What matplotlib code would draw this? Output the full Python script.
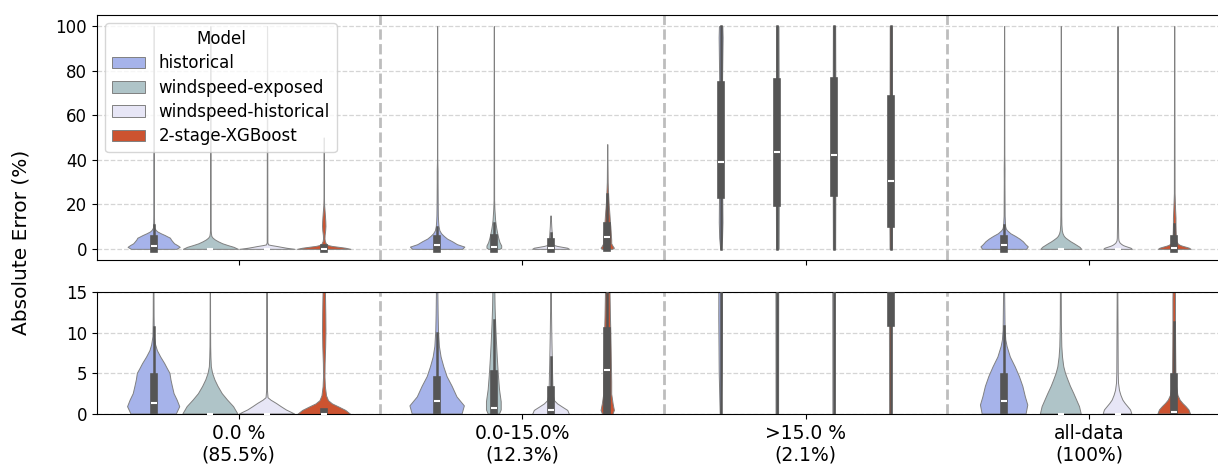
import matplotlib
matplotlib.use("Agg")
import matplotlib.pyplot as plt
from matplotlib.patches import Patch

groups = ["0.0 %\n(85.5%)", "0.0-15.0%\n(12.3%)", ">15.0 %\n(2.1%)", "all-data\n(100%)"]
models = ["historical", "windspeed-exposed", "windspeed-historical", "2-stage-XGBoost"]
colors = ["#a6b3ea", "#afc4c8", "#e7e6f6", "#cc5330"]

# inner box stats: one row per error group, one column per model
whis_lo = [[0, 0, 0, 0], [0, 0, 0, 0], [0, 0, 0, 0], [0, 0, 0, 0]]
q1 = [[0, 0, 0, 0], [0, 0, 0, 0.2], [24.0, 20.7, 25.1, 11.2], [0, 0, 0, 0]]
med = [[1.4, 0, 0, 0.05], [1.63, 0.78, 0.5, 5.43], [39.2, 43.6, 42.3, 30.5], [1.63, 0, 0, 0.2]]
q3 = [[4.55, 0, 0, 0.22], [4.2, 4.9, 2.9, 10.2], [73.4, 75.1, 75.2, 67.2], [4.55, 0, 0, 4.55]]
whis_hi = [[10.7, 0, 0, 0.5], [9.9, 11.5, 7.0, 24.7], [100, 100, 100, 100], [10.8, 0, 0, 11.3]]

# violin outlines: (error value, relative width) per model
shape_zero = [
    ([0, 0.9, 1.7, 2.5, 3.4, 4.2, 5.0, 5.6, 6.2, 7.0, 7.8, 8.5, 9.5, 12, 15, 35, 100],
     [0.80, 0.92, 0.83, 0.72, 0.66, 0.61, 0.575, 0.48, 0.39, 0.25, 0.13, 0.07, 0.025, 0.015, 0.012, 0.012, 0.004]),
    ([0, 0.9, 1.7, 2.5, 3.4, 4.2, 5.0, 5.8, 7.0, 8.3, 11, 15, 100],
     [0.97, 0.82, 0.61, 0.42, 0.27, 0.16, 0.08, 0.035, 0.02, 0.012, 0.008, 0.006, 0.004]),
    ([0, 0.5, 0.9, 1.3, 1.7, 2.0, 3, 100],
     [0.975, 0.68, 0.5, 0.33, 0.14, 0.035, 0.012, 0.004]),
    ([0, 0.5, 0.9, 1.3, 1.7, 2.3, 3.4, 4.6, 6.2, 8.3, 10.3, 12.3, 14.4, 17, 20, 25, 50],
     [0.94, 0.76, 0.53, 0.29, 0.15, 0.08, 0.04, 0.025, 0.03, 0.05, 0.06, 0.055, 0.045, 0.03, 0.012, 0.006, 0.004]),
]
shape_mid = [
    ([0, 1.0, 2.1, 3.4, 4.6, 5.8, 7.0, 8.3, 10.3, 12.3, 15, 20, 30, 35, 40, 100],
     [0.88, 0.96, 0.70, 0.53, 0.35, 0.235, 0.14, 0.08, 0.047, 0.035, 0.025, 0.02, 0.015, 0.015, 0.006, 0.004]),
    ([0, 0.5, 1.5, 3, 5, 7, 9, 11, 13, 15, 18, 22, 100],
     [0.2, 0.26, 0.26, 0.2, 0.155, 0.12, 0.09, 0.065, 0.045, 0.035, 0.02, 0.01, 0.004]),
    ([0, 0.5, 0.9, 1.3, 1.7, 2.5, 4.2, 6.2, 8.3, 10.3, 12.3, 15],
     [0.65, 0.59, 0.41, 0.235, 0.12, 0.07, 0.06, 0.047, 0.035, 0.025, 0.018, 0.004]),
    ([0, 0.5, 1.3, 2.5, 4, 6, 8, 10, 12, 15, 20, 25, 30, 40, 47],
     [0.18, 0.235, 0.19, 0.14, 0.14, 0.13, 0.12, 0.11, 0.095, 0.08, 0.05, 0.03, 0.015, 0.008, 0.004]),
]
shape_high = [
    ([0, 5, 12, 20, 30, 50, 70, 85, 95, 100],
     [0.015, 0.05, 0.065, 0.06, 0.05, 0.045, 0.045, 0.06, 0.07, 0.06]),
    ([0, 20, 50, 80, 100], [0.045, 0.05, 0.045, 0.045, 0.04]),
    ([0, 20, 50, 80, 100], [0.04, 0.045, 0.045, 0.045, 0.04]),
    ([0, 10, 30, 60, 100], [0.04, 0.045, 0.045, 0.04, 0.035]),
]
shape_all = [
    ([0, 1.1, 2.1, 3.4, 4.6, 5.8, 7.0, 8.3, 9.1, 10.3, 15, 30, 36, 42, 100],
     [0.775, 0.835, 0.75, 0.66, 0.54, 0.39, 0.22, 0.105, 0.06, 0.035, 0.018, 0.012, 0.014, 0.008, 0.004]),
    ([0, 0.9, 1.7, 2.5, 3.4, 4.2, 5.0, 5.8, 7.0, 8.3, 11, 15, 100],
     [0.72, 0.66, 0.56, 0.46, 0.34, 0.25, 0.165, 0.105, 0.06, 0.035, 0.02, 0.015, 0.004]),
    ([0, 0.5, 0.9, 1.3, 1.7, 2.3, 2.9, 3.8, 5, 15, 100],
     [0.505, 0.46, 0.365, 0.27, 0.19, 0.12, 0.07, 0.035, 0.025, 0.012, 0.004]),
    ([0, 0.5, 0.9, 1.3, 1.7, 2.3, 3.4, 5, 8.3, 11, 14, 18, 25, 100],
     [0.575, 0.52, 0.42, 0.305, 0.21, 0.13, 0.08, 0.06, 0.05, 0.045, 0.045, 0.03, 0.012, 0.004]),
]
shapes = [shape_zero, shape_mid, shape_high, shape_all]

edge_color = "#808080"
box_color = "#555555"

fig = plt.figure(figsize=(12.18, 4.67), dpi=100)
ax_top = fig.add_axes([0.0796, 0.4433, 0.931, 0.5246])
ax_bot = fig.add_axes([0.0796, 0.1135, 0.931, 0.2612])

for ax in (ax_top, ax_bot):
    for i in range(len(groups)):
        for j in range(len(models)):
            pos = i + (j - 1.5) * 0.2
            ys, ws = shapes[i][j]
            half = [w * 0.1 for w in ws]
            ax.fill_betweenx(ys, [pos - h for h in half], [pos + h for h in half],
                             facecolor=colors[j], edgecolor=edge_color, linewidth=0.7, zorder=2)
            if whis_hi[i][j] > whis_lo[i][j]:
                ax.plot([pos, pos], [whis_lo[i][j], whis_hi[i][j]], color=box_color, lw=1.8, zorder=3)
            if q3[i][j] > q1[i][j]:
                ax.plot([pos, pos], [q1[i][j], q3[i][j]], color=box_color, lw=5.5, zorder=3)
            ax.plot(pos, med[i][j], marker="_", color="white", ms=5, mew=1.5, zorder=4)

    for x in [0.5, 1.5, 2.5]:
        ax.axvline(x, color="#bdbdbd", ls="--", lw=2, zorder=1)
    ax.yaxis.grid(True, ls="--", color="#d5d5d5", lw=0.9)
    ax.set_axisbelow(True)
    ax.set_xlim(-0.5, 3.5)
    ax.set_xticks(range(len(groups)))
    ax.tick_params(labelsize=12)

ax_top.set_ylim(-5, 105)
ax_top.set_yticks([0, 20, 40, 60, 80, 100])
ax_top.set_xticklabels([])
ax_bot.set_ylim(0, 15)
ax_bot.set_yticks([0, 5, 10, 15])
ax_bot.set_xticklabels(groups, fontsize=13.5)

handles = [Patch(facecolor=c, edgecolor=edge_color, linewidth=0.7) for c in colors]
ax_top.legend(handles, models, title="Model", loc="upper left", fontsize=12, title_fontsize=12,
              labelspacing=0.38)

fig.text(21 / 1218, 1 - 242 / 467, "Absolute Error (%)", rotation=90, va="center", ha="center", fontsize=14.5)

fig.savefig("out.png", dpi=100)
